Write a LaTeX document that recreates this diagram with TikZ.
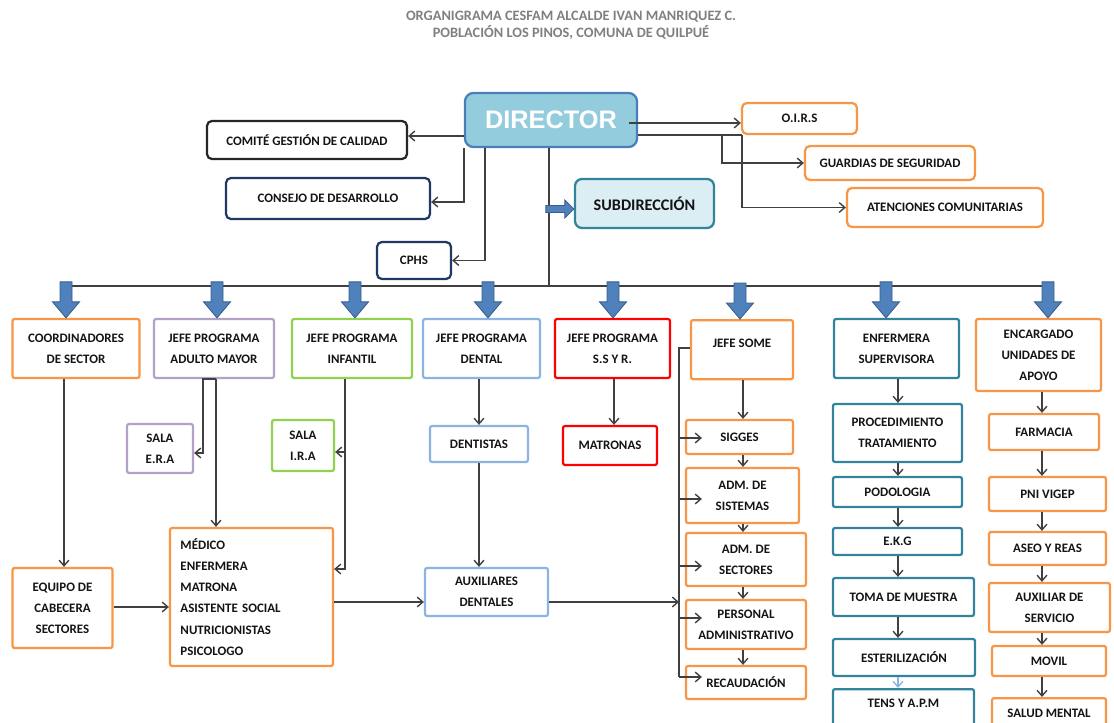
\documentclass[tikz,border=0pt]{standalone}
\usepackage{fontspec}
\setmainfont{Carlito}
\newfontfamily\dirfont{Liberation Sans}
\usetikzlibrary{calc,arrows.meta}

\definecolor{orgorange}{HTML}{F79646}
\definecolor{orgpurple}{HTML}{B3A2C7}
\definecolor{orggreen}{HTML}{92D050}
\definecolor{orgblue}{HTML}{8DB3E2}
\definecolor{orgred}{HTML}{FF0000}
\definecolor{orgteal}{HTML}{31849B}
\definecolor{orgnavy}{HTML}{1F3864}
\definecolor{orgblack}{HTML}{262626}
\definecolor{dirfill}{HTML}{93CDDD}
\definecolor{dirline}{HTML}{4A7EBB}
\definecolor{subfill}{HTML}{DBEEF4}
\definecolor{fatfill}{HTML}{4F81BD}
\definecolor{fatline}{HTML}{385D8A}
\definecolor{titlegray}{HTML}{7F7F7F}
\definecolor{wiregray}{HTML}{404040}
\definecolor{textdark}{HTML}{141414}

\begin{document}
\begin{tikzpicture}[
    x=0.025cm,y=-0.025cm,
    sz/.style 2 args={minimum width=#1*0.025cm,minimum height=#2*0.025cm},
    topset/.style 2 args={inner ysep=0pt,text height=#1,text depth=#2},
    orgbox/.style={draw,line width=1.6pt,rounded corners=1.5pt,fill=white,align=center,text=textdark,font=\bfseries\fontsize{9.2}{15}\selectfont},
    orange box/.style={orgbox,draw=orgorange},
    purple box/.style={orgbox,draw=orgpurple},
    green box/.style={orgbox,draw=orggreen},
    blue box/.style={orgbox,draw=orgblue},
    red box/.style={orgbox,draw=orgred},
    teal box/.style={orgbox,draw=orgteal},
    navy box/.style={orgbox,draw=orgnavy,rounded corners=3.5pt},
    council box/.style={orgbox,draw=orgblack,rounded corners=3.5pt},
    office box/.style={orgbox,draw=orgorange,rounded corners=3.5pt},
    wire/.style={draw=wiregray,line width=1pt},
    conn/.style={wire,-{Straight Barb[length=4pt,width=7pt]}},
    fat/.style={fill=fatfill,draw=fatline,line width=0.6pt}
]
\useasboundingbox (0,0) rectangle (1114,723);
\clip (0,0) rectangle (1114,723);

\node[text=titlegray,align=center,font=\bfseries\fontsize{10.2}{12}\selectfont] (title) at (571,25)
    {ORGANIGRAMA CESFAM ALCALDE IVAN MANRIQUEZ C.\\POBLACIÓN LOS PINOS, COMUNA DE QUILPUÉ};

\node[draw=dirline,fill=dirfill,line width=1.6pt,rounded corners=6pt,text=white,
      font=\dirfont\bfseries\fontsize{18}{20}\selectfont,sz={172}{54}] (director) at (551,120) {DIRECTOR};
\node[council box,sz={200}{38}] (comite) at (307,140) {COMITÉ GESTIÓN DE CALIDAD};
\node[navy box,sz={204}{41}] (consejo) at (328,198.5) {CONSEJO DE DESARROLLO};
\node[navy box,sz={74}{37}] (cphs) at (414,260.5) {CPHS};
\node[orgbox,draw=orgteal,fill=subfill,rounded corners=5pt,font=\bfseries\fontsize{11.5}{13}\selectfont,
      sz={139}{49}] (subdir) at (644.5,203.5) {SUBDIRECCIÓN};
\node[office box,sz={115}{31}] (oirs) at (799.5,118.5) {O.I.R.S};
\node[office box,sz={170}{34}] (guard) at (890,163) {GUARDIAS DE SEGURIDAD};
\node[office box,sz={196}{39}] (atenc) at (945,207.5) {ATENCIONES COMUNITARIAS};

\node[orange box,sz={127}{59}] (coord) at (76,348.5) {COORDINADORES\\DE SECTOR};
\node[purple box,sz={120}{59}] (adulto) at (214,348.5) {JEFE PROGRAMA\\ADULTO MAYOR};
\node[green box,sz={120}{59}] (infantil) at (352,348.5) {JEFE PROGRAMA\\INFANTIL};
\node[blue box,sz={117}{59}] (dental) at (481.5,348.5) {JEFE PROGRAMA\\DENTAL};
\node[red box,sz={115}{59}] (ssyr) at (612.5,348.5) {JEFE PROGRAMA\\S.S Y R.};
\node[orange box,sz={102}{59},topset={19.2pt}{22.8pt},anchor=north] (some) at (742,319) {JEFE SOME};
\node[teal box,sz={125}{59}] (enfer) at (896.5,348.5) {ENFERMERA\\SUPERVISORA};
\node[orange box,sz={125}{72}] (apoyo) at (1038.5,355) {ENCARGADO\\UNIDADES DE\\APOYO};

\node[purple box,sz={66}{49}] (salaera) at (160,448.5) {SALA\\E.R.A};
\node[green box,sz={62}{51}] (salaira) at (303,445.5) {SALA\\I.R.A};
\node[blue box,sz={98}{36}] (dentistas) at (479,444) {DENTISTAS};
\node[red box,sz={94}{39}] (matronas) at (610,445.5) {MATRONAS};
\node[orange box,sz={163}{138},align=left,text width=101pt] (staff) at (251.5,597)
    {MÉDICO\\ENFERMERA\\MATRONA\\ASISTENTE SOCIAL\\NUTRICIONISTAS\\PSICOLOGO};
\node[orange box,sz={100}{80}] (equipo) at (62.5,608) {EQUIPO DE\\CABECERA\\SECTORES};
\node[blue box,sz={123}{48}] (auxden) at (486.5,592) {AUXILIARES\\DENTALES};

\node[orange box,sz={107}{34}] (sigges) at (739.5,437) {SIGGES};
\node[orange box,sz={113}{55}] (admsis) at (742.5,495.5) {ADM. DE\\SISTEMAS};
\node[orange box,sz={120}{53}] (admsec) at (746,559.5) {ADM. DE\\SECTORES};
\node[orange box,sz={120}{49}] (personal) at (746,624.5) {PERSONAL\\ADMINISTRATIVO};
\node[orange box,sz={120}{33}] (recaud) at (746,682.5) {RECAUDACIÓN};

\node[teal box,sz={129}{58}] (proc) at (897.5,433) {PROCEDIMIENTO\\TRATAMIENTO};
\node[teal box,sz={129}{30}] (podo) at (897.5,492) {PODOLOGIA};
\node[teal box,sz={129}{27}] (ekg) at (897.5,541.5) {E.K.G};
\node[teal box,sz={141}{38}] (toma) at (903.5,597) {TOMA DE MUESTRA};
\node[teal box,sz={142}{37}] (ester) at (904,657.5) {ESTERILIZACIÓN};
\node[teal box,sz={141}{50},topset={12.8pt}{22.8pt},anchor=north] (tens) at (903.5,688) {TENS Y A.P.M};

\node[orange box,sz={110}{36}] (farm) at (1044,432) {FARMACIA};
\node[orange box,sz={117}{34}] (pni) at (1047.5,494) {PNI VIGEP};
\node[orange box,sz={117}{33}] (aseo) at (1047.5,548.5) {ASEO Y REAS};
\node[orange box,sz={121}{49}] (auxser) at (1049.5,607.5) {AUXILIAR DE\\SERVICIO};
\node[orange box,sz={114}{30}] (movil) at (1049,661) {MOVIL};
\node[orange box,sz={114}{50},topset={13.5pt}{22pt},anchor=north] (salud) at (1049,697) {SALUD MENTAL};

\coordinate (bus l) at (66,286);
\coordinate (bus r) at (1048,286);
\coordinate (dj1) at (722,135);
\coordinate (dj2) at (742,135);
\coordinate (ij) at (345,452);
\coordinate (sbus) at (679,348);
\coordinate (somex) at (743,0);
\coordinate (enfx) at (898,0);
\coordinate (apox) at (1042,0);

\draw[wire] (director.south -| 549,0) -- (549,0 |- bus l);
\draw[wire] (bus l) -- (bus r);
\foreach \x/\n in {66/coord,217/adulto,355/infantil,488/dental,613/ssyr,740/some,886/enfer,1048/apoyo}
  \draw[fat] (\x,0 |- \n.north) -- ++(13.5,-16) -- ++(-7.5,0) -- ++(0,-20) -- ++(-12,0) -- ++(0,20) -- ++(-7.5,0) -- cycle;
\draw[fat] (subdir.west |- 0,209) -- ++(-9,-9) -- ++(0,5.5) -- ++(-19,0) -- ++(0,7) -- ++(19,0) -- ++(0,5.5) -- cycle;

\draw[conn] (director.west |- 0,136) -- (comite.east |- 0,136);
\draw[conn] (director.south west) |- (consejo.east |- 0,202);
\draw[conn] (485,0 |- director.south) |- (cphs.east);
\draw[conn] ($(director.east)+(-9,3)$) -- (oirs.west |- 0,123);
\draw[wire] (director.east |- dj1) -- (dj2);
\draw[conn] (dj1) |- (guard.west);
\draw[conn] (dj2) |- (atenc.west);

\draw[conn] (coord.south -| 64,0) -- (equipo.north -| 64,0);
\draw[conn] (adulto.south -| 216,0) -- (staff.north -| 216,0);
\draw[conn] (adulto.south -| 216,0) -- (adulto.south -| 203,0) |- (salaera.east |- 0,453);
\draw[conn] (infantil.south -| 345,0) |- (staff.east |- 0,569);
\draw[conn] (ij) -- (salaira.east |- ij);
\draw[conn] (dental.south -| dentistas.north) -- (dentistas.north);
\draw[conn] (dentistas.south) -- (dentistas.south |- auxden.north);
\draw[conn] (ssyr.south -| 614,0) -- (matronas.north -| 614,0);
\draw[conn] (equipo.east |- 0,607) -- (staff.west |- 0,607);
\draw[conn] (staff.east |- 0,602) -- (auxden.west |- 0,602);
\draw[conn] (auxden.east |- 0,602) -- (sbus |- 0,602);

\draw[wire] (some.west |- sbus) -- (sbus) -- (sbus |- 0,677);
\foreach \n/\y in {sigges/438,admsis/499,admsec/566,personal/618,recaud/677}
  \draw[conn] (sbus |- 0,\y) -- ($(\n.west |- 0,\y)+(17,0)$);
\foreach \a/\b in {some/sigges,sigges/admsis,admsis/admsec,admsec/personal,personal/recaud}
  \draw[conn] (\a.south -| somex) -- (\b.north -| somex);
\foreach \a/\b in {enfer/proc,proc/podo,podo/ekg,ekg/toma,toma/ester}
  \draw[conn] (\a.south -| enfx) -- (\b.north -| enfx);
\draw[conn,draw=orgblue] (ester.south -| enfx) -- (tens.north -| enfx);
\foreach \a/\b in {apoyo/farm,farm/pni,pni/aseo,aseo/auxser,auxser/movil,movil/salud}
  \draw[conn] (\a.south -| apox) -- (\b.north -| apox);
\end{tikzpicture}
\end{document}
